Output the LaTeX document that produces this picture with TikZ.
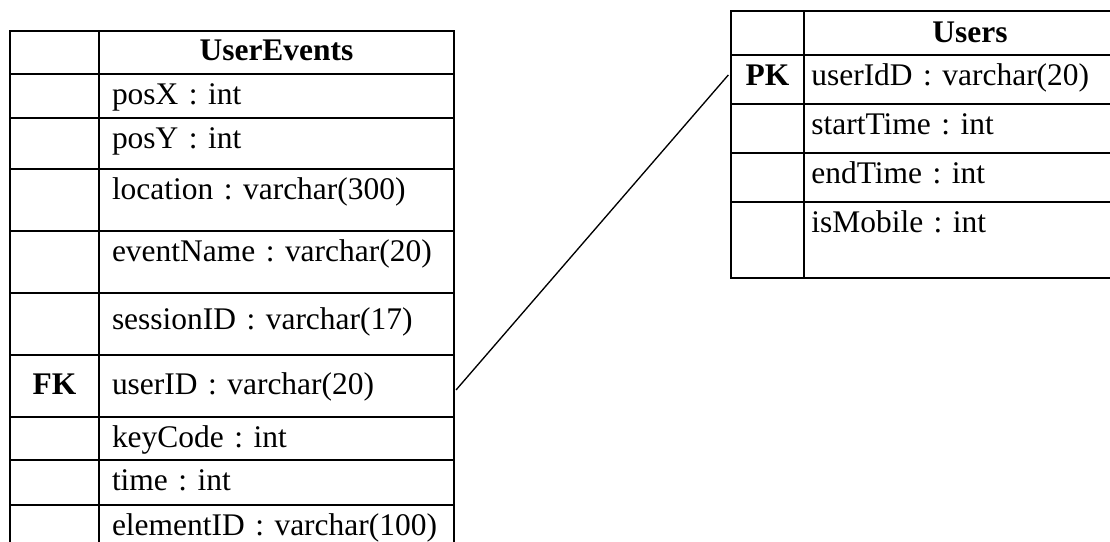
\documentclass[tikz,border=0pt]{standalone}
\usepackage{fontspec}
\setmainfont{Liberation Serif}
\usetikzlibrary{positioning}
\newcommand{\tabfont}{\fontsize{23.6pt}{28pt}\selectfont\frenchspacing}

\begin{document}
\begin{tikzpicture}[font=\tabfont, line width=1.5pt,
  evfield/.style={draw, rectangle, outer sep=0pt, inner ysep=0pt, inner xsep=9.75pt, text width=246.75pt, align=left, text height=22.5pt, text depth=#1},
  evkey/.style={draw, rectangle, outer sep=0pt, inner sep=0pt, text width=66.75pt, align=center, text height=22.5pt, text depth=#1, font=\tabfont\bfseries},
  usfield/.style={evfield=#1, inner xsep=5.5pt, text width=238pt},
  uskey/.style={evkey=#1, text width=54.75pt}]
\clip (0,0) rectangle (832.5pt,-406.5pt);

% UserEvents table
\node[evfield=9.75pt, align=center, font=\tabfont\bfseries, anchor=north west] (evhead) at (74.25pt,-23.25pt) {UserEvents};
\node[evfield=10.5pt, below=0pt of evhead] (posx) {posX : int};
\node[evfield=15.75pt, below=0pt of posx] (posy) {posY : int};
\node[evfield=24pt, below=0pt of posy] (location) {location : varchar(300)};
\node[evfield=24pt, below=0pt of location] (eventname) {eventName : varchar(20)};
\node[evfield=19.5pt, text height=27pt, below=0pt of eventname] (sessionid) {sessionID : varchar(17)};
\node[evfield=17.25pt, text height=29.25pt, below=0pt of sessionid] (userid) {userID : varchar(20)};
\node[evfield=9.75pt, below=0pt of userid] (keycode) {keyCode : int};
\node[evfield=11.25pt, below=0pt of keycode] (time) {time : int};
\node[evfield=8.25pt, below=0pt of time] (elementid) {elementID : varchar(100)};

\node[evkey=9.75pt, left=0pt of evhead] (evk1) {};
\node[evkey=10.5pt, left=0pt of posx] (evk2) {};
\node[evkey=15.75pt, left=0pt of posy] (evk3) {};
\node[evkey=24pt, left=0pt of location] (evk4) {};
\node[evkey=24pt, left=0pt of eventname] (evk5) {};
\node[evkey=19.5pt, text height=27pt, left=0pt of sessionid] (evk6) {};
\node[evkey=17.25pt, text height=29.25pt, left=0pt of userid] (fk) {FK};
\node[evkey=9.75pt, left=0pt of keycode] (evk8) {};
\node[evkey=11.25pt, left=0pt of time] (evk9) {};
\node[evkey=8.25pt, left=0pt of elementid] (evk10) {};

% Users table
\node[usfield=9pt, text height=24pt, align=center, font=\tabfont\bfseries, anchor=north west] (ushead) at (603pt,-8.25pt) {Users};
\node[usfield=14.25pt, below=0pt of ushead] (useridd) {userIdD : varchar(20)};
\node[usfield=14.25pt, below=0pt of useridd] (starttime) {startTime : int};
\node[usfield=14.25pt, below=0pt of starttime] (endtime) {endTime : int};
\node[usfield=34.5pt, below=0pt of endtime] (ismobile) {isMobile : int};

\node[uskey=9pt, text height=24pt, left=0pt of ushead] (usk1) {};
\node[uskey=14.25pt, left=0pt of useridd] (pk) {PK};
\node[uskey=14.25pt, left=0pt of starttime] (usk3) {};
\node[uskey=14.25pt, left=0pt of endtime] (usk4) {};
\node[uskey=34.5pt, left=0pt of ismobile] (usk5) {};

\draw[line width=1pt] ([shift={(1.5pt,-3pt)}]userid.east) -- ([shift={(-2pt,3.4pt)}]pk.west);

\end{tikzpicture}
\end{document}
